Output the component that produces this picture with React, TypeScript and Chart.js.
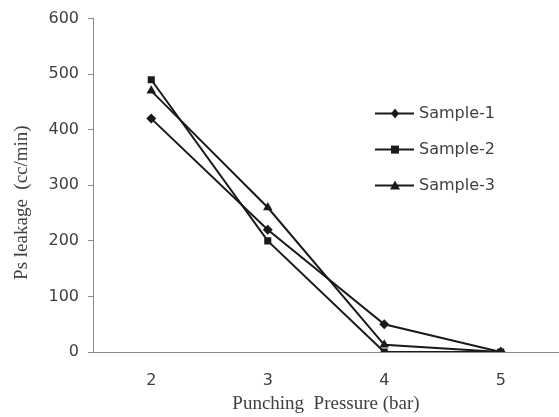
import React, { useEffect, useRef } from "react";
import { Chart, registerables } from "chart.js";

Chart.register(...registerables);

const pressures = ["2", "3", "4", "5"];
const sample1 = [420, 220, 50, 0];
const sample2 = [490, 200, 0, 0];
const sample3 = [470, 260, 13, 0];
const seriesNames = ["Sample-1", "Sample-2", "Sample-3"];
const yTitle = "Ps leakage  (cc/min)";
const xTitle = "Punching  Pressure (bar)";

const LINE = "#1a1a1a";
const AXIS = "#8a8a8a";
const TEXT = "#404040";
const SANS = "'DejaVu Sans', sans-serif";
const SERIF = "'Liberation Serif', serif";

const yTitlePlugin = {
  id: "yTitle",
  afterDraw(chart: any) {
    const { ctx, chartArea } = chart;
    ctx.save();
    ctx.translate(22, chartArea.top + 184);
    ctx.rotate(-Math.PI / 2);
    ctx.fillStyle = TEXT;
    ctx.font = `19px ${SERIF}`;
    ctx.textAlign = "center";
    ctx.textBaseline = "middle";
    ctx.fillText(yTitle, 0, 0);
    ctx.restore();
  },
};

const legendPlugin = {
  id: "insideLegend",
  afterDraw(chart: any) {
    const { ctx, chartArea } = chart;
    const x0 = chartArea.left + 282;
    const y0 = chartArea.top + 95;
    const gap = 36;
    chart.data.datasets.forEach((ds: any, i: number) => {
      const y = y0 + i * gap;
      ctx.save();
      ctx.strokeStyle = LINE;
      ctx.lineWidth = 2;
      ctx.beginPath();
      ctx.moveTo(x0, y);
      ctx.lineTo(x0 + 39, y);
      ctx.stroke();
      ctx.fillStyle = LINE;
      const cx = x0 + 20;
      const r = 4;
      ctx.beginPath();
      if (ds.pointStyle === "rectRot") {
        ctx.moveTo(cx, y - r - 1);
        ctx.lineTo(cx + r, y);
        ctx.lineTo(cx, y + r + 1);
        ctx.lineTo(cx - r, y);
        ctx.closePath();
      } else if (ds.pointStyle === "rect") {
        ctx.rect(cx - r, y - r, 2 * r, 2 * r);
      } else {
        ctx.moveTo(cx, y - r - 1);
        ctx.lineTo(cx + r + 1, y + r);
        ctx.lineTo(cx - r - 1, y + r);
        ctx.closePath();
      }
      ctx.fill();
      ctx.fillStyle = TEXT;
      ctx.font = `16px ${SANS}`;
      ctx.textBaseline = "middle";
      ctx.textAlign = "left";
      ctx.fillText(ds.label, x0 + 44, y);
      ctx.restore();
    });
  },
};

export default function App() {
  const ref = useRef<HTMLCanvasElement>(null);
  useEffect(() => {
    document.body.style.margin = "0";
    const mk = (label: string, data: number[], style: string, radius: number) => ({
      label,
      data,
      borderColor: LINE,
      backgroundColor: LINE,
      borderWidth: 2,
      pointStyle: style,
      pointRadius: radius,
      pointBorderWidth: 0,
      pointBackgroundColor: LINE,
      tension: 0,
    });
    const chart = new Chart(ref.current!, {
      type: "line",
      data: {
        labels: pressures,
        datasets: [
          mk(seriesNames[0], sample1, "rectRot", 5),
          mk(seriesNames[1], sample2, "rect", 5),
          mk(seriesNames[2], sample3, "triangle", 5.5),
        ],
      },
      options: {
        animation: false,
        responsive: false,
        layout: { autoPadding: false, padding: { top: 17, right: 0, left: 0, bottom: 0 } },
        plugins: { legend: { display: false }, tooltip: { enabled: false } },
        scales: {
          x: {
            offset: true,
            grid: { display: false },
            border: { display: true, color: AXIS, width: 1 },
            ticks: { color: TEXT, font: { family: SANS, size: 16 }, padding: 11 },
            title: {
              display: true,
              text: xTitle,
              color: TEXT,
              font: { family: SERIF, size: 19 },
              padding: { top: 0, bottom: 2 },
            },
            afterFit(scale: any) {
              scale.height = 65;
            },
          },
          y: {
            min: 0,
            max: 600,
            ticks: { stepSize: 100, color: TEXT, font: { family: SANS, size: 16 }, padding: 9 },
            grid: { drawOnChartArea: false, tickLength: 5, color: AXIS },
            border: { display: true, color: AXIS, width: 1 },
            afterFit(scale: any) {
              scale.width = 93;
            },
          },
        },
      },
      plugins: [legendPlugin, yTitlePlugin],
    } as any);
    return () => chart.destroy();
  }, []);
  return (
    <div style={{ width: 559, height: 417 }}>
      <canvas ref={ref} width={559} height={417} />
    </div>
  );
}
